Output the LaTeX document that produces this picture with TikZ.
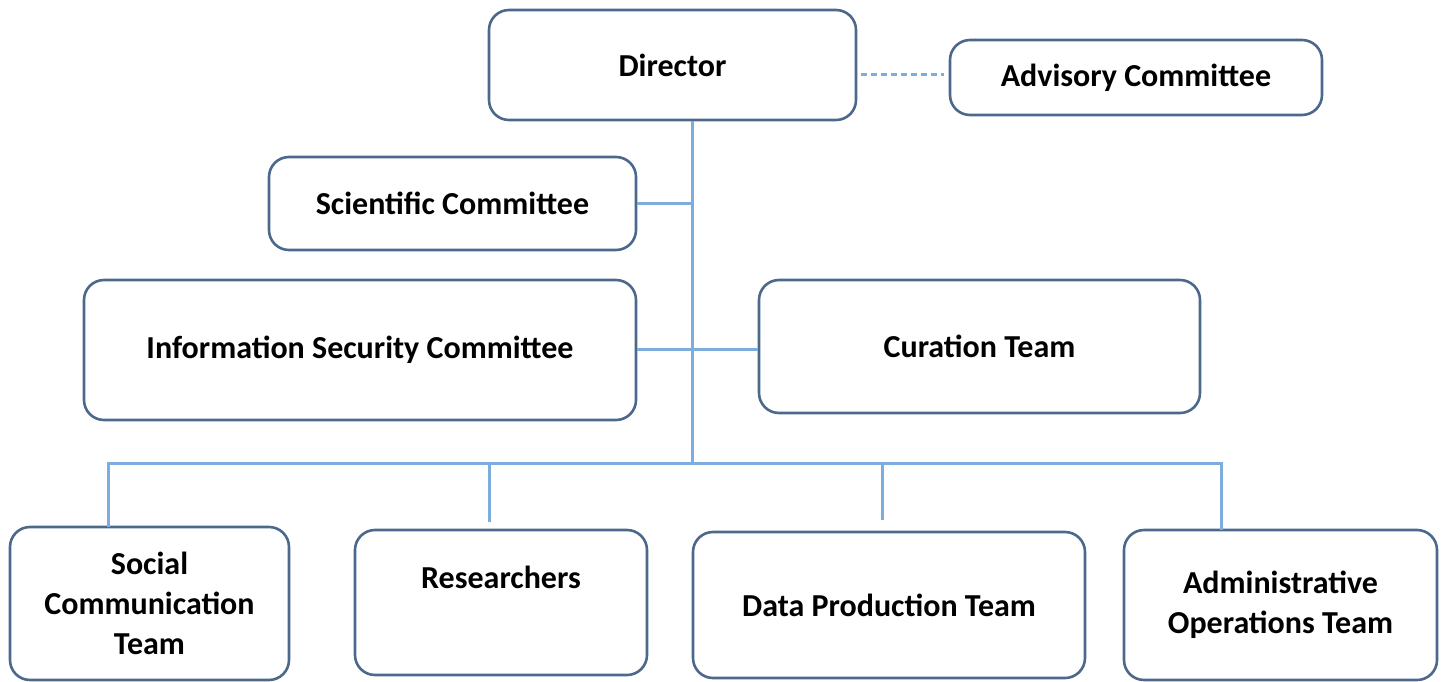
\documentclass[tikz,border=0pt]{standalone}
\usepackage{fontspec}
\setmainfont{Carlito}
\usepackage{tikz}
\usetikzlibrary{positioning,calc}
\usepackage{xcolor}
\definecolor{orgline}{RGB}{125,172,222}
\definecolor{orgbox}{RGB}{76,104,138}
\tikzstyle{unit} = [draw=orgbox, line width=2.6pt, rounded corners=20pt, align=center, font=\fontsize{32}{40}\selectfont\bfseries, inner sep=0pt]
\tikzstyle{link} = [line width=3pt, color=orgline]

\begin{document}
\begin{tikzpicture}[x=1pt, y=-1pt]
    \useasboundingbox (0,0) rectangle (1445,682);

    % Top level
    \node[unit, minimum width=367pt, minimum height=110pt] (director) at (672.5,65) {Director};
    \node[unit, minimum width=372pt, minimum height=75pt] (advisory) at (1136,77.5) {Advisory Committee};

    % Committees and curation
    \node[unit, minimum width=367pt, minimum height=93pt] (scientific) at (452.5,203.5) {Scientific Committee};
    \node[unit, minimum width=552pt, minimum height=140pt] (security) at (360,350) {Information Security Committee};
    \node[unit, minimum width=441pt, minimum height=133pt] (curation) at (979.5,346.5) {Curation Team};

    % Teams
    \node[unit, minimum width=279pt, minimum height=153pt] (social) at (149.5,603.5) {Social\\Communication\\Team};
    \node[unit, minimum width=292pt, minimum height=145pt, text depth=50pt] (researchers) at (501,602.5) {Researchers};
    \node[unit, minimum width=392pt, minimum height=146pt] (dataprod) at (889,605) {Data Production Team};
    \node[unit, minimum width=313pt, minimum height=150pt] (adminops) at (1280.5,605) {Administrative\\Operations Team};

    % Connectors
    \coordinate (hub) at (692,463);
    \coordinate (midbar) at (692,349);
    \coordinate (socialdrop) at (108,527);
    \coordinate (researchdrop) at (489,522);
    \coordinate (datadrop) at (882,520);
    \coordinate (admindrop) at (1221,530);

    \draw[link, dash pattern=on 6pt off 4pt] ($(director.east |- 0,75)+(4,0)$) -- ($(advisory.west |- 0,75)+(-5,0)$);
    \draw[link] (director.south -| hub) -- (hub);
    \draw[link] (scientific.east) -- (scientific.east -| hub);
    \draw[link] (security.east |- midbar) -- (curation.west |- midbar);
    \draw[link] (socialdrop) -- (socialdrop |- hub) -- (admindrop |- hub) -- (admindrop);
    \draw[link] (researchdrop |- hub) -- (researchdrop);
    \draw[link] (datadrop |- hub) -- (datadrop);
\end{tikzpicture}
\end{document}
